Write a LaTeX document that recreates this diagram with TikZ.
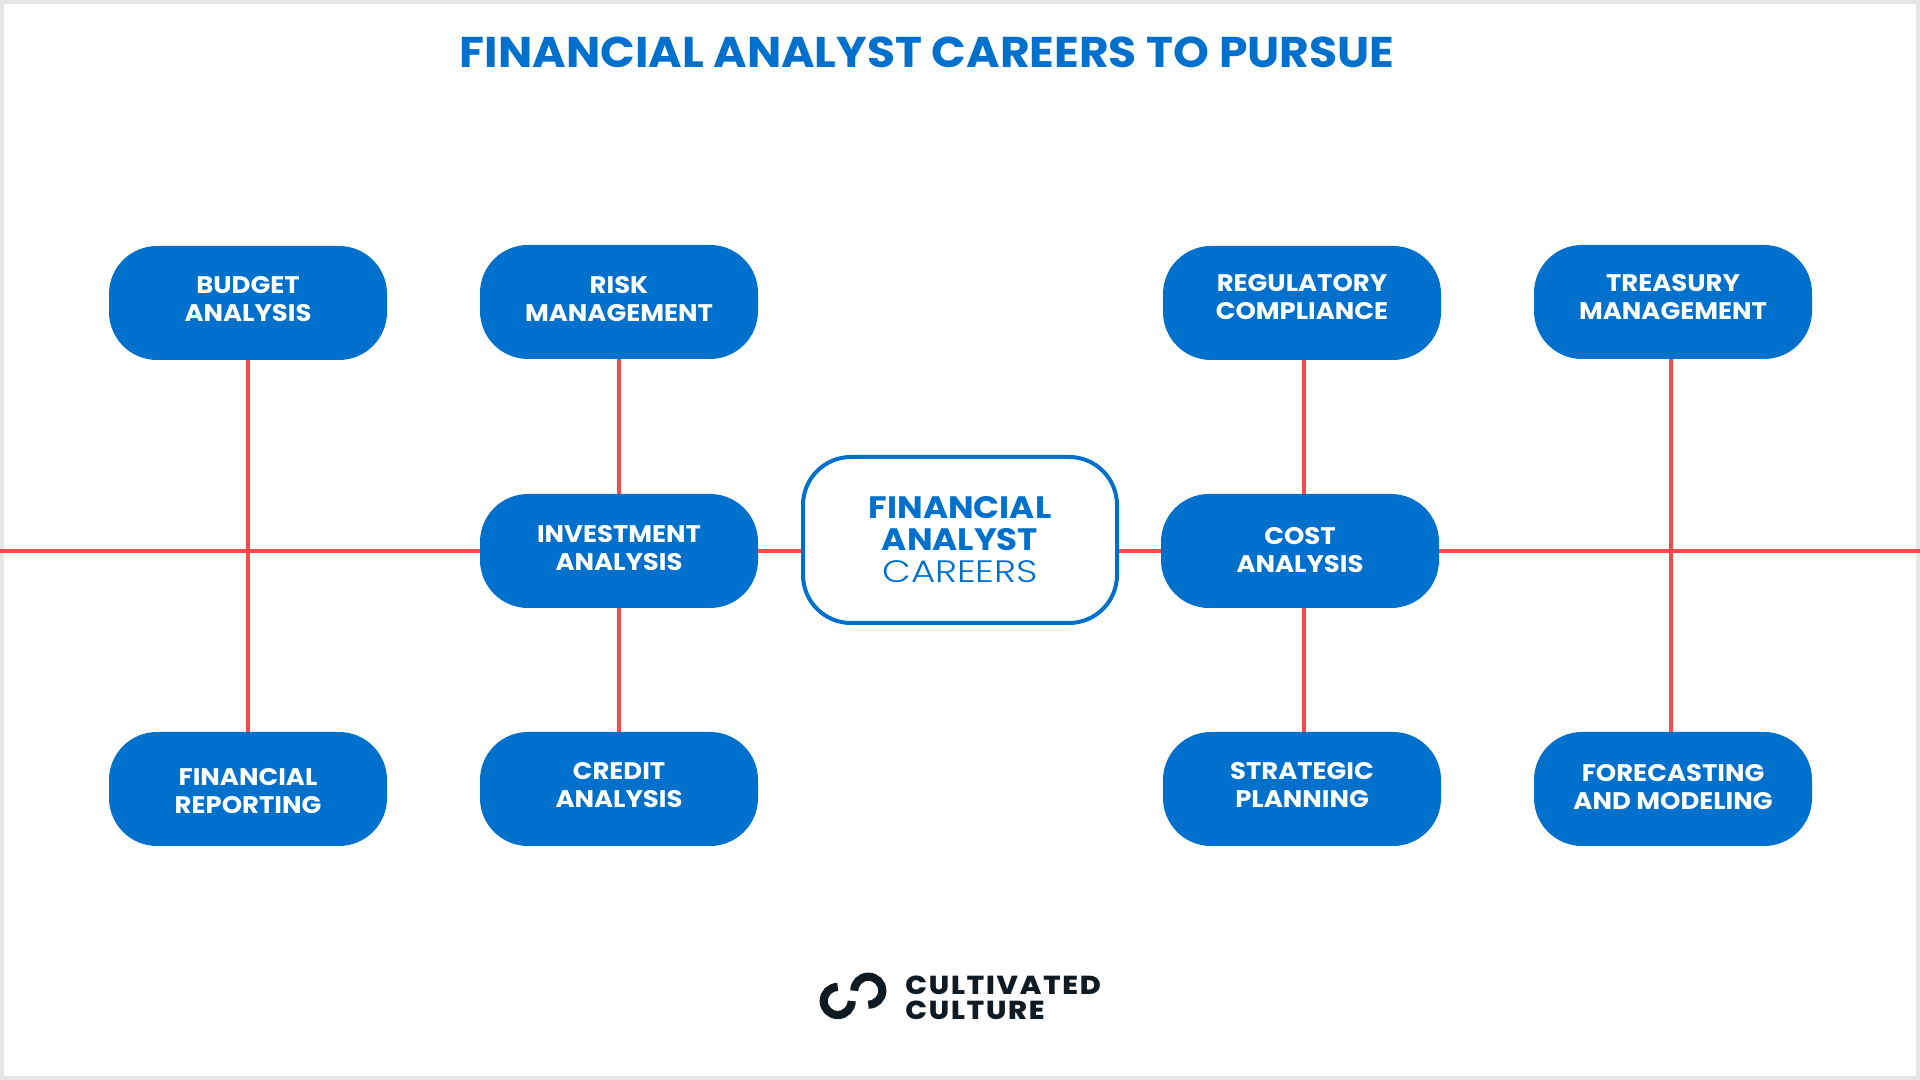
\documentclass[tikz,border=0pt]{standalone}
\usepackage{fontspec}
\setmainfont{Poppins}
\newfontfamily\hubthin[FakeStretch=1.2]{Poppins Light}
\newfontfamily\logofont[FakeStretch=1.1,LetterSpace=7]{Poppins ExtraBold}
\usetikzlibrary{positioning}
\definecolor{careerblue}{HTML}{0070CD}
\definecolor{linkred}{HTML}{F44C46}
\definecolor{logoink}{HTML}{101A22}
\definecolor{framegray}{HTML}{E6E6E6}
\tikzset{
  careerbox/.style={fill=careerblue,rounded corners=24pt,minimum width=139pt,minimum height=57pt,inner sep=0pt,text=white,align=center,font=\bfseries\fontsize{12}{14}\selectfont\addfontfeatures{FakeStretch=1.08}},
  hubbox/.style={draw=careerblue,line width=2pt,fill=white,rounded corners=24pt,minimum width=157pt,minimum height=83pt,inner sep=0pt,text=careerblue,align=center,font=\fontsize{15.5}{16}\selectfont},
  link/.style={linkred,line width=2pt},
  logotext/.style={text=logoink,anchor=west,inner sep=0pt,font=\logofont\fontsize{13}{13}\selectfont},
  logoarc/.style={logoink,line width=4.1pt}
}
\begin{document}
\begin{tikzpicture}[x=0.5pt,y=0.5pt]
\useasboundingbox (0,0) rectangle (1920,1080);
\fill[framegray] (0,0) rectangle (1920,1080);
\fill[white] (4,4) rectangle (1916,1076);
\node[text=careerblue,font=\bfseries\fontsize{21.5}{24}\selectfont\addfontfeatures{FakeStretch=1.06}] (title) at (927,1028) {FINANCIAL ANALYST CAREERS TO PURSUE};
% top row
\node[careerbox] (budget) at (248,777) {BUDGET\\ANALYSIS\\[-10.3pt]};
\node[careerbox] (risk) at (619,778) {RISK\\MANAGEMENT\\[-11pt]};
\node[careerbox] (regulatory) at (1302,777) {REGULATORY\\COMPLIANCE\\[-8pt]};
\node[careerbox] (treasury) at (1673,778) {TREASURY\\MANAGEMENT\\[-8.5pt]};
% middle row
\node[careerbox] (investment) at (619,529) {INVESTMENT\\ANALYSIS\\[-11pt]};
\node[hubbox] (hub) at (960,540) {\textbf{\addfontfeatures{FakeStretch=1.1}FINANCIAL}\\\textbf{\addfontfeatures{FakeStretch=1.1}ANALYST}\\\hubthin CAREERS};
\node[careerbox] (cost) at (1300,529) {COST\\ANALYSIS\\[-12.8pt]};
% bottom row
\node[careerbox] (reporting) at (248,291) {FINANCIAL\\REPORTING\\[-15.8pt]};
\node[careerbox] (credit) at (619,291) {CREDIT\\ANALYSIS\\[-10.3pt]};
\node[careerbox] (strategic) at (1302,291) {STRATEGIC\\PLANNING\\[-10.3pt]};
\node[careerbox] (forecasting) at (1673,291) {FORECASTING\\AND MODELING\\[-12.2pt]};
\coordinate (leftend) at (0,529);
\coordinate (rightend) at (1920,529);
\draw[link] (leftend)--(investment.west);
\draw[link] (investment.east)--(investment.east-|hub.west);
\draw[link] (cost.west-|hub.east)--(cost.west);
\draw[link] (cost.east)--(rightend);
\draw[link] (budget)--(reporting);
\draw[link] (risk)--(investment);
\draw[link] (investment)--(credit);
\draw[link] ([xshift=1pt]regulatory.south)--([xshift=2pt]cost.north);
\draw[link] ([xshift=2pt]cost.south)--([xshift=1pt]strategic.north);
\draw[link] ([xshift=-1pt]treasury.south)--([xshift=-1pt]forecasting.north);
% logo
\draw[logoarc] (837.7,93) arc (90:360:14);
\draw[logoarc] (854.3,89.3) arc (180:-90:14);
\node[logotext] (cultivated) at (905,95) {CULTIVATED};
\node[logotext] (culture) at (905,70) {CULTURE};
\end{tikzpicture}
\end{document}
